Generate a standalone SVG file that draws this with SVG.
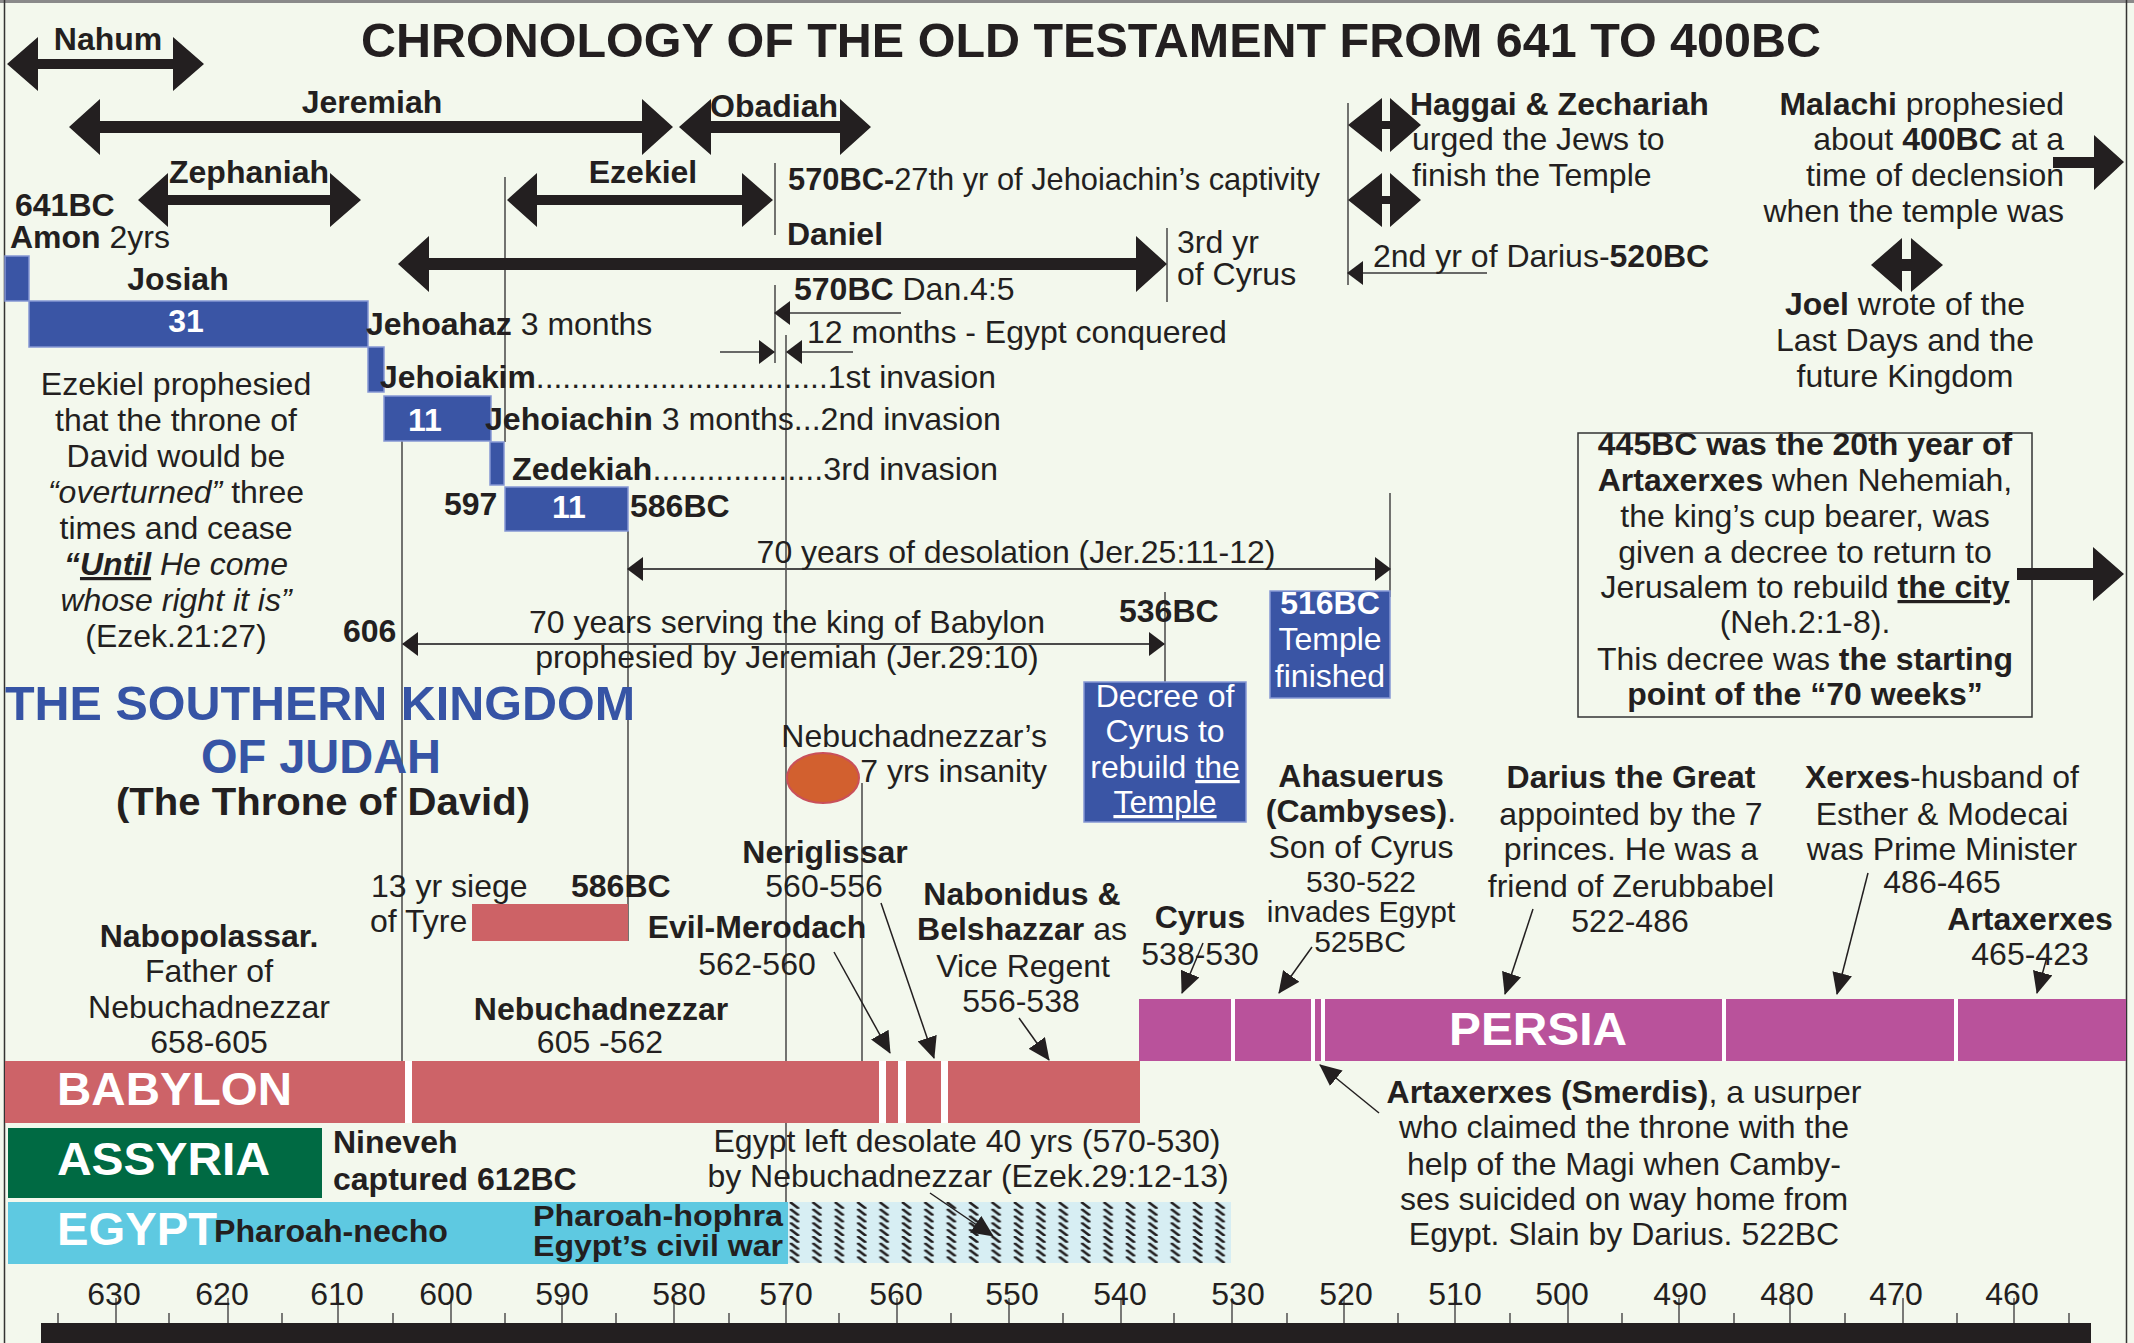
<svg xmlns="http://www.w3.org/2000/svg" width="2134" height="1343" viewBox="0 0 2134 1343">
<defs>
<style>
.t{font-family:"Liberation Sans",Arial,sans-serif;font-size:32px;fill:#231f20}
.b{font-weight:bold}
.i{font-style:italic}
.u{text-decoration:underline}
.w{fill:#ffffff}
.m{text-anchor:middle}
.e{text-anchor:end}
.s30{font-size:30px}
.big{font-size:47px;font-weight:bold;fill:#ffffff}
.ln{stroke:#3a3a3a;stroke-width:1.4;fill:none}
.la{stroke:#4a4a4a;stroke-width:2;fill:none}
.pa{stroke:#231f20;stroke-width:1.5;fill:none}
.ar{fill:#231f20}
.blue{fill:#3a55a5;stroke:#8596d3;stroke-width:1.5}
.bab{fill:#cd6368}
.per{fill:#b9529b}
.tick{stroke:#444;stroke-width:1.4}
</style>
<marker id="mA" viewBox="0 0 16 24" markerUnits="userSpaceOnUse" markerWidth="16" markerHeight="24" refX="15" refY="12" orient="auto-start-reverse"><path d="M0,0 L16,12 L0,24 z" fill="#231f20"/></marker>
<marker id="mB" viewBox="0 0 22 20" markerUnits="userSpaceOnUse" markerWidth="22" markerHeight="20" refX="21" refY="10" orient="auto"><path d="M0,0 L22,10 L0,20 z" fill="#231f20"/></marker>
<pattern id="hatch" patternUnits="userSpaceOnUse" x="788" y="1202" width="22.4" height="6.8"><line x1="2" y1="0" x2="11" y2="6.8" stroke="#231f20" stroke-width="2.6"/></pattern>
</defs>

<rect x="0" y="0" width="2134" height="1343" fill="#f3f8ed"/>
<line x1="0" y1="1.5" x2="2134" y2="1.5" stroke="#8a8a8a" stroke-width="3"/>
<line x1="4.5" y1="0" x2="4.5" y2="1343" stroke="#333" stroke-width="1.5"/>
<line x1="2126.5" y1="0" x2="2126.5" y2="1343" stroke="#333" stroke-width="1.5"/>

<g id="title"><text class="t b m" x="1091" y="57" style="font-size:48px" textLength="1460" lengthAdjust="spacingAndGlyphs">CHRONOLOGY OF THE OLD TESTAMENT FROM 641 TO 400BC</text></g>

<g id="connectors">
<line class="ln" x1="402" y1="396" x2="402" y2="1061"/>
<line class="ln" x1="505" y1="177" x2="505" y2="442"/>
<line class="ln" x1="628" y1="531" x2="628" y2="941"/>
<line class="ln" x1="775" y1="163" x2="775" y2="235"/>
<line class="ln" x1="775" y1="285" x2="775" y2="363"/>
<line class="ln" x1="786" y1="335" x2="786" y2="1263"/>
<line class="ln" x1="862" y1="783" x2="862" y2="1061"/>
<line class="ln" x1="1167" y1="228" x2="1167" y2="302"/>
<line class="ln" x1="1165" y1="592" x2="1165" y2="682"/>
<line class="ln" x1="1390" y1="493" x2="1390" y2="597"/>
<line class="ln" x1="1348" y1="103" x2="1348" y2="285"/>
<line class="la" x1="628" y1="569" x2="1390" y2="569" marker-start="url(#mA)" marker-end="url(#mA)"/>
<line class="la" x1="403" y1="644" x2="1164" y2="644" marker-start="url(#mA)" marker-end="url(#mA)"/>
<line class="ln" x1="901" y1="313" x2="775" y2="313" marker-end="url(#mA)"/>
<line class="ln" x1="720" y1="352" x2="774" y2="352" marker-end="url(#mA)"/>
<line class="ln" x1="853" y1="352" x2="787" y2="352" marker-end="url(#mA)"/>
<line class="ln" x1="1487" y1="273" x2="1348" y2="273" marker-end="url(#mA)"/>
<line class="pa" x1="834" y1="952" x2="890" y2="1053" marker-end="url(#mB)"/>
<line class="pa" x1="881" y1="903" x2="934" y2="1058" marker-end="url(#mB)"/>
<line class="pa" x1="1019" y1="1018" x2="1049" y2="1060" marker-end="url(#mB)"/>
<line class="pa" x1="1203" y1="943" x2="1182" y2="993" marker-end="url(#mB)"/>
<line class="pa" x1="1312" y1="947" x2="1279" y2="993" marker-end="url(#mB)"/>
<line class="pa" x1="1533" y1="909" x2="1505" y2="994" marker-end="url(#mB)"/>
<line class="pa" x1="1868" y1="873" x2="1837" y2="994" marker-end="url(#mB)"/>
<line class="pa" x1="2047" y1="957" x2="2037" y2="993" marker-end="url(#mB)"/>
<line class="pa" x1="1379" y1="1113" x2="1320" y2="1065" marker-end="url(#mB)"/>
</g>

<g id="prophets">
<g id="nahum"><polygon class="ar" points="7,64 38,37 38,59 173,59 173,37 204,64 173,91 173,69 38,69 38,91"/><text class="t b m" x="108" y="50">Nahum</text></g>
<g id="jeremiah"><polygon class="ar" points="69,127 100,99 100,121 642,121 642,99 673,127 642,155 642,133 100,133 100,155"/><text class="t b m" x="372" y="113">Jeremiah</text></g>
<g id="obadiah"><polygon class="ar" points="679,127 711,99 711,121 840,121 840,99 871,127 840,155 840,133 711,133 711,155"/><text class="t b m" x="774" y="117">Obadiah</text></g>
<g id="zephaniah"><polygon class="ar" points="138,200 168,173 168,195 330,195 330,173 361,200 330,227 330,205 168,205 168,227"/><text class="t b m" x="249" y="183">Zephaniah</text></g>
<g id="ezekiel"><polygon class="ar" points="507,200 537,173 537,195 742,195 742,173 773,200 742,227 742,205 537,205 537,227"/><text class="t b m" x="643" y="183">Ezekiel</text></g>
<g id="daniel"><polygon class="ar" points="398,264 429,236 429,258 1136,258 1136,236 1167,264 1136,292 1136,270 429,270 429,292"/><text class="t b" x="787" y="245">Daniel</text></g>
<g id="haggai">
<polygon class="ar" points="1348,125 1382,98 1382,121 1390,121 1390,98 1421,125 1390,152 1390,129 1382,129 1382,152"/>
<polygon class="ar" points="1348,200 1382,173 1382,196 1390,196 1390,173 1421,200 1390,227 1390,204 1382,204 1382,227"/>
<text class="t b" x="1410" y="115">Haggai &amp; Zechariah</text>
<text class="t" x="1412" y="150">urged the Jews to</text>
<text class="t" x="1412" y="186">finish the Temple</text>
<text class="t" x="1373" y="267">2nd yr of Darius-<tspan class="b">520BC</tspan></text>
</g>
<g id="malachi">
<polygon class="ar" points="2053,157 2094,157 2094,135 2124,162 2094,190 2094,168 2053,168"/>
<text class="t e" x="2064" y="115"><tspan class="b">Malachi</tspan> prophesied</text>
<text class="t e" x="2064" y="150">about <tspan class="b">400BC</tspan> at a</text>
<text class="t e" x="2064" y="186">time of declension</text>
<text class="t e" x="2064" y="222">when the temple was</text>
</g>
<g id="joel">
<polygon class="ar" points="1871,265 1902,238 1902,259 1911,259 1911,238 1943,265 1911,292 1911,271 1902,271 1902,292"/>
<text class="t m" x="1905" y="315"><tspan class="b">Joel</tspan> wrote of the</text>
<text class="t m" x="1905" y="351">Last Days and the</text>
<text class="t m" x="1905" y="387">future Kingdom</text>
</g>
</g>

<g id="kings">
<g id="amon"><rect class="blue" x="5" y="256" width="24" height="45"/><text class="t b" x="15" y="216">641BC</text><text class="t" x="10" y="248"><tspan class="b">Amon</tspan> 2yrs</text></g>
<g id="josiah"><rect class="blue" x="29" y="301" width="339" height="46"/><text class="t b m" x="178" y="290">Josiah</text><text class="t b m w" x="186" y="332">31</text></g>
<g id="jehoahaz"><rect class="blue" x="368" y="347" width="16" height="45"/><text class="t" x="366" y="335"><tspan class="b">Jehoahaz</tspan> 3 months</text></g>
<g id="jehoiakim"><rect class="blue" x="384" y="396" width="107" height="45"/><text class="t b m w" x="425" y="431">11</text><text class="t" x="380" y="388" textLength="616" lengthAdjust="spacingAndGlyphs"><tspan class="b">Jehoiakim</tspan>.................................1st invasion</text></g>
<g id="jehoiachin"><text class="t" x="485" y="430" textLength="516" lengthAdjust="spacingAndGlyphs"><tspan class="b">Jehoiachin</tspan> 3 months...2nd invasion</text></g>
<g id="zedekiah"><rect class="blue" x="490" y="442" width="14" height="43"/><rect class="blue" x="505" y="487" width="123" height="44"/><text class="t b m w" x="569" y="518">11</text><text class="t" x="512" y="480" textLength="486" lengthAdjust="spacingAndGlyphs"><tspan class="b">Zedekiah</tspan>...................3rd invasion</text><text class="t b" x="444" y="515">597</text><text class="t b" x="630" y="517">586BC</text></g>
</g>

<g id="ezekiel-note">
<text class="t m" x="176" y="395">Ezekiel prophesied</text>
<text class="t m" x="176" y="431">that the throne of</text>
<text class="t m" x="176" y="467">David would be</text>
<text class="t m" x="176" y="503"><tspan class="i">“overturned”</tspan> three</text>
<text class="t m" x="176" y="539">times and cease</text>
<text class="t m i" x="176" y="575"><tspan class="b">“</tspan><tspan class="b u">Until</tspan> He come</text>
<text class="t m i" x="176" y="611">whose right it is”</text>
<text class="t m" x="176" y="647">(Ezek.21:27)</text>
</g>

<g id="captivity-notes">
<text class="t" x="788" y="190" textLength="532" lengthAdjust="spacingAndGlyphs"><tspan class="b">570BC-</tspan>27th yr of Jehoiachin’s captivity</text>
<text class="t" x="1177" y="253">3rd yr</text>
<text class="t" x="1177" y="285">of Cyrus</text>
<text class="t" x="794" y="300"><tspan class="b">570BC</tspan> Dan.4:5</text>
<text class="t" x="807" y="343">12 months - Egypt conquered</text>
</g>

<g id="seventy-years">
<text class="t m" x="1016" y="563">70 years of desolation (Jer.25:11-12)</text>
<text class="t m" x="787" y="633">70 years serving the king of Babylon</text>
<text class="t m" x="787" y="668">prophesied by Jeremiah (Jer.29:10)</text>
<text class="t b" x="343" y="642">606</text>
<text class="t b" x="1119" y="622">536BC</text>
</g>

<g id="temple-finished"><rect class="blue" x="1270" y="591" width="120" height="107"/>
<text class="t b m w" x="1330" y="614">516BC</text><text class="t m w" x="1330" y="650">Temple</text><text class="t m w" x="1330" y="687">finished</text></g>

<g id="decree-cyrus"><rect class="blue" x="1084" y="682" width="162" height="140"/>
<text class="t m w" x="1165" y="707">Decree of</text><text class="t m w" x="1165" y="742">Cyrus to</text><text class="t m w" x="1165" y="778">rebuild <tspan class="u">the</tspan></text><text class="t m w u" x="1165" y="813">Temple</text></g>

<g id="decree-445"><rect x="1578" y="433" width="454" height="284" fill="none" stroke="#333" stroke-width="1.5"/>
<text class="t m b" x="1805" y="455">445BC was the 20th year of</text>
<text class="t m" x="1805" y="491"><tspan class="b">Artaxerxes</tspan> when Nehemiah,</text>
<text class="t m" x="1805" y="527">the king’s cup bearer, was</text>
<text class="t m" x="1805" y="563">given a decree to return to</text>
<text class="t m" x="1805" y="598">Jerusalem to rebuild <tspan class="b u">the city</tspan></text>
<text class="t m" x="1805" y="633">(Neh.2:1-8).</text>
<text class="t m" x="1805" y="670">This decree was <tspan class="b">the starting</tspan></text>
<text class="t m b" x="1805" y="705">point of the “70 weeks”</text>
<polygon class="ar" points="2017,568 2093,568 2093,547 2124,574 2093,601 2093,580 2017,580"/>
</g>

<g id="southern-kingdom">
<text class="t b" x="5" y="720" style="font-size:48px;fill:#3654a5" textLength="630" lengthAdjust="spacingAndGlyphs">THE SOUTHERN KINGDOM</text>
<text class="t b m" x="321" y="773" style="font-size:48px;fill:#3654a5" textLength="240" lengthAdjust="spacingAndGlyphs">OF JUDAH</text>
<text class="t b m" x="323" y="815" style="font-size:38px" textLength="414" lengthAdjust="spacingAndGlyphs">(The Throne of David)</text>
</g>

<g id="insanity"><ellipse cx="823" cy="778" rx="36" ry="25" fill="#d2602f" stroke="#c9505a" stroke-width="2"/>
<text class="t e" x="1047" y="747">Nebuchadnezzar’s</text><text class="t e" x="1047" y="782">7 yrs insanity</text></g>

<g id="siege"><rect x="472" y="904" width="156" height="37" fill="#cd6266"/>
<text class="t" x="371" y="897">13 yr siege</text><text class="t" x="370" y="932">of Tyre</text><text class="t b" x="571" y="897">586BC</text></g>

<g id="babylon-kings">
<text class="t b m" x="209" y="947">Nabopolassar.</text><text class="t m" x="209" y="982">Father of</text><text class="t m" x="209" y="1018">Nebuchadnezzar</text><text class="t m" x="209" y="1053">658-605</text>
<text class="t b m" x="601" y="1020">Nebuchadnezzar</text><text class="t m" x="600" y="1053">605 -562</text>
<text class="t b m" x="757" y="938">Evil-Merodach</text><text class="t m" x="757" y="975">562-560</text>
<text class="t b m" x="825" y="863">Neriglissar</text><text class="t m" x="824" y="897">560-556</text>
<text class="t b m" x="1022" y="905">Nabonidus &amp;</text><text class="t m" x="1022" y="940"><tspan class="b">Belshazzar</tspan> as</text><text class="t m" x="1023" y="977">Vice Regent</text><text class="t m" x="1021" y="1012">556-538</text>
</g>

<g id="persia-kings">
<text class="t b m" x="1200" y="928">Cyrus</text><text class="t m" x="1200" y="965">538-530</text>
<text class="t b m" x="1361" y="787">Ahasuerus</text><text class="t m" x="1361" y="822"><tspan class="b">(Cambyses)</tspan>.</text><text class="t m" x="1361" y="858">Son of Cyrus</text><text class="t m s30" x="1361" y="892">530-522</text><text class="t m s30" x="1361" y="922">invades Egypt</text><text class="t m s30" x="1360" y="952">525BC</text>
<text class="t b m" x="1631" y="788">Darius the Great</text><text class="t m" x="1631" y="825">appointed by the 7</text><text class="t m" x="1631" y="860">princes.  He was a</text><text class="t m" x="1631" y="897">friend of Zerubbabel</text><text class="t m" x="1630" y="932">522-486</text>
<text class="t m" x="1942" y="788"><tspan class="b">Xerxes</tspan>-husband of</text><text class="t m" x="1942" y="825">Esther &amp; Modecai</text><text class="t m" x="1942" y="860">was Prime Minister</text><text class="t m" x="1942" y="893">486-465</text>
<text class="t b m" x="2030" y="930">Artaxerxes</text><text class="t m" x="2030" y="965">465-423</text>
<text class="t m" x="1624" y="1103"><tspan class="b">Artaxerxes (Smerdis)</tspan>, a usurper</text>
<text class="t m" x="1624" y="1138">who claimed the throne with the</text>
<text class="t m" x="1624" y="1175">help of the Magi when Camby-</text>
<text class="t m" x="1624" y="1210">ses suicided on way home from</text>
<text class="t m" x="1624" y="1245">Egypt. Slain by Darius. 522BC</text>
</g>

<g id="babylon"><rect class="bab" x="5" y="1061" width="1135" height="62"/>
<rect x="405" y="1061" width="7" height="62" fill="#fff"/><rect x="879" y="1061" width="7" height="62" fill="#fff"/><rect x="898" y="1061" width="8" height="62" fill="#fff"/><rect x="941" y="1061" width="7" height="62" fill="#fff"/>
<text class="t big" x="57" y="1105" textLength="235" lengthAdjust="spacingAndGlyphs">BABYLON</text></g>

<g id="persia"><rect class="per" x="1139" y="999" width="987" height="62"/>
<rect x="1231" y="999" width="4" height="62" fill="#fff"/><rect x="1311" y="999" width="4" height="62" fill="#fff"/><rect x="1321" y="999" width="4" height="62" fill="#fff"/><rect x="1722" y="999" width="4" height="62" fill="#fff"/><rect x="1954" y="999" width="4" height="62" fill="#fff"/>
<text class="t big" x="1449" y="1045" textLength="178" lengthAdjust="spacingAndGlyphs">PERSIA</text></g>

<g id="assyria"><rect x="8" y="1128" width="314" height="70" fill="#006a43"/>
<text class="t big" x="57" y="1175" textLength="213" lengthAdjust="spacingAndGlyphs">ASSYRIA</text>
<text class="t b" x="333" y="1153">Nineveh</text><text class="t b" x="333" y="1190">captured 612BC</text></g>

<g id="egypt"><rect x="8" y="1202" width="780" height="62" fill="#5ec9e1"/>
<rect x="788" y="1202" width="443" height="61" fill="#d7eef3"/><rect x="788" y="1202" width="443" height="61" fill="url(#hatch)"/>
<text class="t big" x="57" y="1245" textLength="160" lengthAdjust="spacingAndGlyphs">EGYPT</text>
<text class="t b" x="214" y="1242" textLength="234" lengthAdjust="spacingAndGlyphs">Pharoah-necho</text>
<text class="t b" x="533" y="1226" style="font-size:29px" textLength="250" lengthAdjust="spacingAndGlyphs">Pharoah-hophra</text>
<text class="t b" x="533" y="1256" style="font-size:29px" textLength="250" lengthAdjust="spacingAndGlyphs">Egypt’s civil war</text>
<text class="t m" x="967" y="1152">Egypt left desolate 40 yrs  (570-530)</text>
<text class="t m" x="968" y="1187">by Nebuchadnezzar (Ezek.29:12-13)</text>
<line class="pa" x1="930" y1="1193" x2="993" y2="1236" stroke-width="2.5" marker-end="url(#mB)"/>
</g>

<g id="timeline">
<rect x="41" y="1323" width="2050" height="20" fill="#231f20"/>
<g class="tick">
<line x1="116" y1="1298" x2="116" y2="1323"/><line x1="228" y1="1298" x2="228" y2="1323"/><line x1="338" y1="1298" x2="338" y2="1323"/><line x1="451" y1="1298" x2="451" y2="1323"/><line x1="562" y1="1298" x2="562" y2="1323"/><line x1="674" y1="1298" x2="674" y2="1323"/><line x1="786" y1="1298" x2="786" y2="1323"/><line x1="897" y1="1298" x2="897" y2="1323"/><line x1="1009" y1="1298" x2="1009" y2="1323"/><line x1="1121" y1="1298" x2="1121" y2="1323"/><line x1="1232" y1="1298" x2="1232" y2="1323"/><line x1="1344" y1="1298" x2="1344" y2="1323"/><line x1="1455" y1="1298" x2="1455" y2="1323"/><line x1="1568" y1="1298" x2="1568" y2="1323"/><line x1="1679" y1="1298" x2="1679" y2="1323"/><line x1="1790" y1="1298" x2="1790" y2="1323"/><line x1="1903" y1="1298" x2="1903" y2="1323"/><line x1="2014" y1="1298" x2="2014" y2="1323"/>
<line x1="58" y1="1313" x2="58" y2="1323"/><line x1="169" y1="1313" x2="169" y2="1323"/><line x1="282" y1="1313" x2="282" y2="1323"/><line x1="393" y1="1313" x2="393" y2="1323"/><line x1="505" y1="1313" x2="505" y2="1323"/><line x1="616" y1="1313" x2="616" y2="1323"/><line x1="729" y1="1313" x2="729" y2="1323"/><line x1="839" y1="1313" x2="839" y2="1323"/><line x1="951" y1="1313" x2="951" y2="1323"/><line x1="1063" y1="1313" x2="1063" y2="1323"/><line x1="1174" y1="1313" x2="1174" y2="1323"/><line x1="1287" y1="1313" x2="1287" y2="1323"/><line x1="1398" y1="1313" x2="1398" y2="1323"/><line x1="1510" y1="1313" x2="1510" y2="1323"/><line x1="1622" y1="1313" x2="1622" y2="1323"/><line x1="1734" y1="1313" x2="1734" y2="1323"/><line x1="1845" y1="1313" x2="1845" y2="1323"/><line x1="1957" y1="1313" x2="1957" y2="1323"/><line x1="2069" y1="1313" x2="2069" y2="1323"/>
</g>
<g class="t m">
<text x="114" y="1305">630</text><text x="222" y="1305">620</text><text x="337" y="1305">610</text><text x="446" y="1305">600</text><text x="562" y="1305">590</text><text x="679" y="1305">580</text><text x="786" y="1305">570</text><text x="896" y="1305">560</text><text x="1012" y="1305">550</text><text x="1120" y="1305">540</text><text x="1238" y="1305">530</text><text x="1346" y="1305">520</text><text x="1455" y="1305">510</text><text x="1562" y="1305">500</text><text x="1680" y="1305">490</text><text x="1787" y="1305">480</text><text x="1896" y="1305">470</text><text x="2012" y="1305">460</text>
</g>
</g>
</svg>
